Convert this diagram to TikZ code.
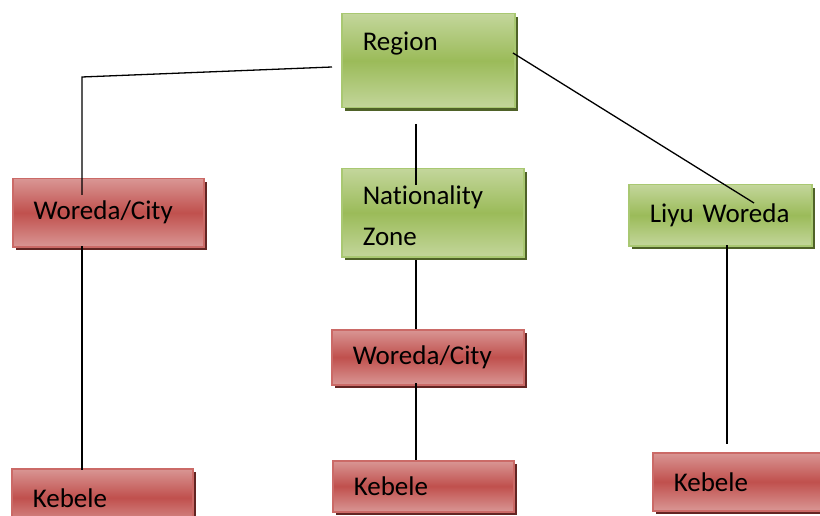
\documentclass[tikz,border=0pt]{standalone}
\usepackage{fontspec}
\setmainfont{Carlito}[Ligatures=NoCommon]
\usetikzlibrary{shadows}
\definecolor{green unit light}{HTML}{C3D69B}
\definecolor{green unit dark}{HTML}{9BBB59}
\definecolor{green unit border}{HTML}{A9C872}
\definecolor{green unit shadow}{HTML}{4F6228}
\definecolor{red unit light}{HTML}{D99694}
\definecolor{red unit dark}{HTML}{C0504D}
\definecolor{red unit border}{HTML}{CB6A67}
\definecolor{red unit shadow}{HTML}{632523}
\tikzset{
    x={1pt},
    y={-1pt},
    unit/.style={
        rectangle, anchor=north west,
        align=left,
        font={\fontsize{27}{41}\selectfont},
        inner xsep=21pt, inner ysep=0pt,
        line width={1.5pt},
    },
    unit size/.style n args={3}{
        minimum width={#1},
        minimum height={#2},
        text width={#3},
    },
    green unit/.style={
        unit, draw=green unit border,
        top color=green unit light, bottom color=green unit light,
        middle color=green unit dark,
        drop shadow={shadow xshift=3pt, shadow yshift=-3pt,
            fill=green unit shadow, opacity=1},
    },
    red unit/.style={
        unit, draw=red unit border,
        top color=red unit light, bottom color=red unit light,
        middle color=red unit dark,
        drop shadow={shadow xshift=3pt, shadow yshift=-3pt,
            fill=red unit shadow, opacity=1},
    },
    link/.style={
        draw=black,
        line width={1.3pt},
    },
}

\begin{document}
\begin{tikzpicture}
\useasboundingbox (0,0) rectangle (820,516);
% units
\node[green unit, unit size={173}{94}{131pt}] (region) at (341,13) {\rule{0pt}{33pt}Region\\ \strut};
\node[red unit, unit size={191}{68}{149pt}] (woreda) at (12,178) {Woreda/City};
\node[green unit, unit size={182}{88}{140pt}] (zone) at (341,168) {\rule{0pt}{24pt}Nationality\\Zone};
\node[green unit, unit size={183}{61}{141pt}] (liyu) at (628,184) {Liyu Woreda};
\node[red unit, unit size={192}{55}{150pt}] (zone woreda) at (331,329) {Woreda/City};
\node[red unit, unit size={181}{58}{139pt}] (kebele) at (11,468) {Kebele};
\node[red unit, unit size={181}{51}{139pt}] (zone kebele) at (332,460) {Kebele};
\node[red unit, unit size={180}{58}{138pt}] (liyu kebele) at (652,452) {Kebele};
% link ends
\coordinate (region left) at (332,67);
\coordinate (region corner) at (82,77);
\coordinate (woreda top) at (82,195);
\coordinate (woreda bottom) at (82,246);
\coordinate (kebele top) at (82,470);
\coordinate (region right) at (513,53);
\coordinate (liyu top) at (754,203);
\coordinate (region bottom) at (416,124);
\coordinate (zone top) at (416,185);
\coordinate (zone bottom) at (416,260);
\coordinate (zone woreda top) at (416,329);
\coordinate (zone woreda bottom) at (416,383);
\coordinate (zone kebele top) at (416,460);
\coordinate (liyu bottom) at (727,245);
\coordinate (liyu kebele top) at (727,444);
% links
\draw[link] (region left) -- (region corner) -- (woreda top);
\draw[link] (woreda bottom) -- (kebele top);
\draw[link] (region right) -- (liyu top);
\draw[link] (region bottom) -- (zone top);
\draw[link] (zone bottom) -- (zone woreda top);
\draw[link] (zone woreda bottom) -- (zone kebele top);
\draw[link] (liyu bottom) -- (liyu kebele top);
\end{tikzpicture}
\end{document}
